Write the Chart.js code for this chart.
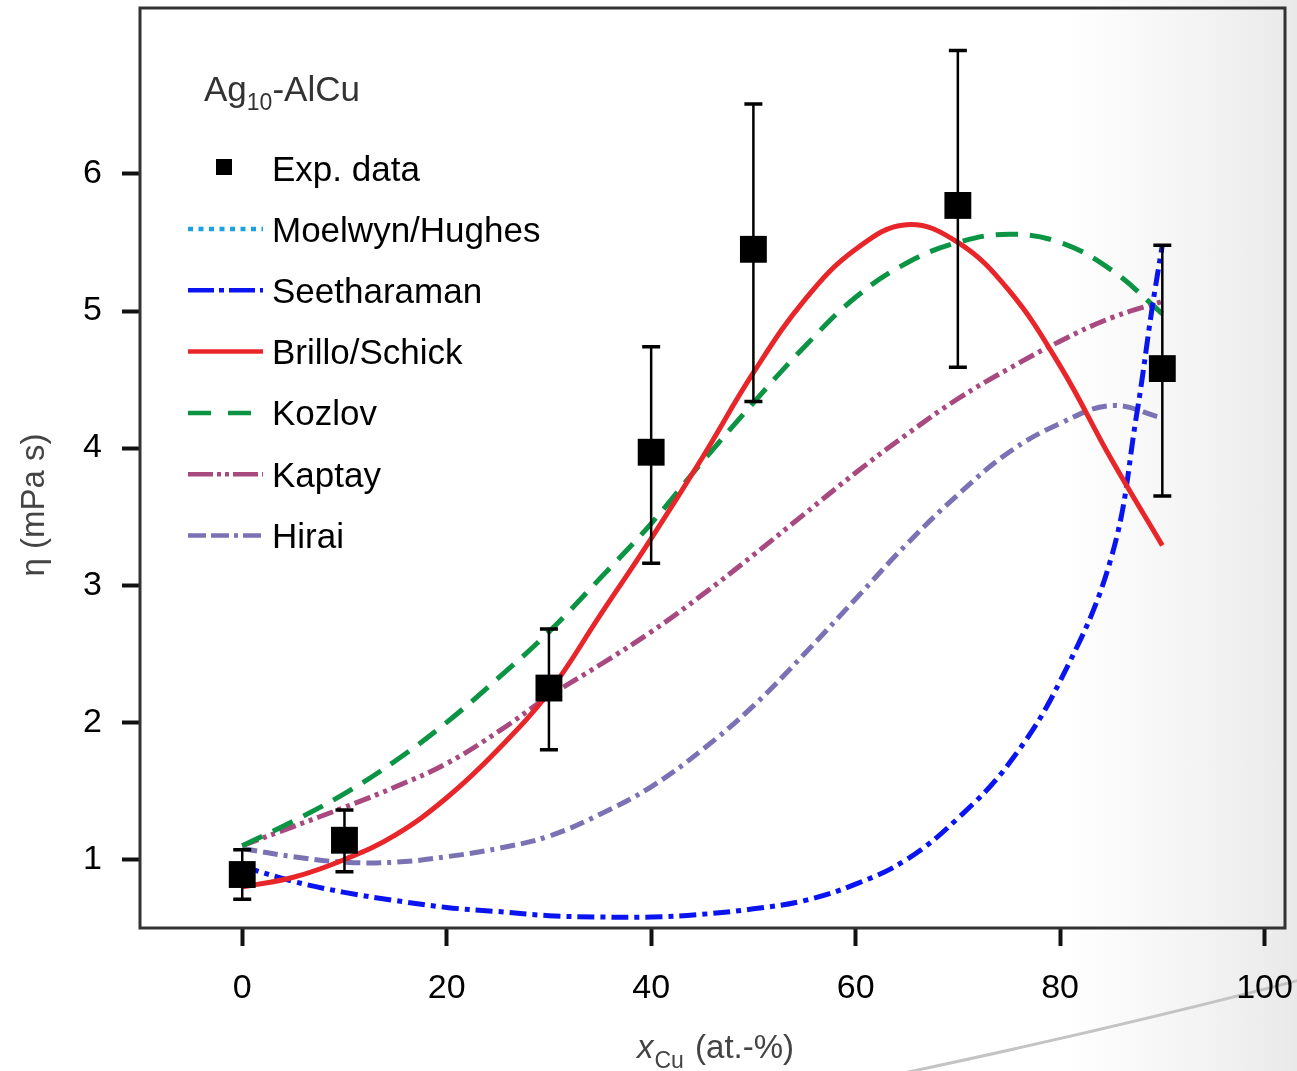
<!DOCTYPE html>
<html>
<head>
<meta charset="utf-8">
<script src="https://cdn.jsdelivr.net/npm/chart.js"></script>
<style>
  html, body { margin: 0; padding: 0; }
  body {
    width: 1297px; height: 1071px; overflow: hidden; position: relative;
    background: linear-gradient(to right, #ffffff 0%, #ffffff 82%, #f3f3f3 93%, #e9e9e9 100%);
    font-family: "Liberation Sans", Arial, sans-serif;
  }
  #deco { position: absolute; left: 0; top: 0; }
  /* canvas is shifted up a bit so the plot box lands where the original has it */
  #wrap { position: absolute; left: 0; top: -11px; width: 1304px; height: 1082px; }
</style>
</head>
<body>
<svg id="deco" width="1297" height="1071">
  <path d="M 880 1078 Q 1100 1032 1300 980" fill="none" stroke="#c4c4c4" stroke-width="3"/>
</svg>
<div id="wrap"><canvas id="chart"></canvas></div>
<script>
// axis ticks
const xTicks = [0, 20, 40, 60, 80, 100];
const yTicks = [1, 2, 3, 4, 5, 6];

// experimental points (x in at.-% Cu, viscosity in mPa s)
const expX    = [0, 10, 30, 40, 50, 70, 90];
const expY    = [0.89, 1.14, 2.25, 3.97, 5.45, 5.77, 4.58];
const expLow  = [0.71, 0.91, 1.80, 3.16, 4.34, 4.59, 3.65];
const expHigh = [1.07, 1.36, 2.68, 4.74, 6.51, 6.90, 5.48];

// model curves
const curveX = [0, 5, 10, 15, 20, 25, 30, 35, 40, 45, 50, 55, 60, 65, 70, 75, 80, 85, 90];
const brillo = [0.80, 0.87, 1.00, 1.18, 1.45, 1.80, 2.22, 2.78, 3.34, 3.93, 4.55, 5.08, 5.45, 5.63, 5.50, 5.15, 4.60, 3.92, 3.29];
const kozlov = [1.10, 1.28, 1.48, 1.72, 2.00, 2.32, 2.66, 3.05, 3.45, 3.90, 4.33, 4.74, 5.10, 5.35, 5.50, 5.56, 5.50, 5.30, 4.98];
const kaptay = [1.10, 1.24, 1.38, 1.53, 1.70, 1.93, 2.19, 2.42, 2.66, 2.93, 3.22, 3.52, 3.82, 4.10, 4.36, 4.58, 4.78, 4.95, 5.07];
const hirai  = [1.08, 1.02, 0.98, 0.98, 1.02, 1.08, 1.17, 1.33, 1.53, 1.80, 2.12, 2.50, 2.90, 3.30, 3.66, 3.97, 4.18, 4.31, 4.22];

const seethX = [0, 5, 10, 15, 20, 25, 30, 35, 40, 45, 50, 55, 60, 65, 70, 75, 80, 85, 87.5, 89, 90];
const seeth  = [0.95, 0.84, 0.76, 0.70, 0.65, 0.62, 0.59, 0.58, 0.58, 0.60, 0.64, 0.70, 0.82, 1.00, 1.30, 1.70, 2.30, 3.20, 4.25, 5.02, 5.48];

// Moelwyn/Hughes is listed in the legend but not visible in the plot
const moelwynX = [];
const moelwyn  = [];

const FONT = '"Liberation Sans", Arial, sans-serif';
const SHIFT = 11; // matches the -11px offset of #wrap

function pts(xs, ys) {
  return xs.map((x, i) => ({ x: x, y: ys[i] }));
}

function curve(label, xs, ys, color, dash, legendDash, order) {
  return {
    type: 'line',
    label: label,
    data: pts(xs, ys),
    borderColor: color,
    borderWidth: 5,
    borderDash: dash,
    legendDash: legendDash,
    pointRadius: 0,
    fill: false,
    tension: 0.4,
    order: order
  };
}

const datasets = [
  {
    type: 'scatter',
    label: 'Exp. data',
    data: pts(expX, expY),
    pointStyle: 'rect',
    pointRadius: 19,
    pointBackgroundColor: '#000',
    pointBorderWidth: 0,
    order: 0
  },
  curve('Moelwyn/Hughes', moelwynX, moelwyn, '#1ba1e2', [5, 5], [5, 5.5], 7),
  curve('Seetharaman', seethX, seeth, '#0a14f0', [17, 6, 5, 6], [26, 5, 5, 5], 2),
  curve('Brillo/Schick', curveX, brillo, '#e8262a', [], [], 1),
  curve('Kozlov', curveX, kozlov, '#0b9444', [22, 12], [23, 17], 3),
  curve('Kaptay', curveX, kaptay, '#a8497f', [17, 5, 4, 5, 4, 5], [25, 4, 4, 4, 4, 4], 4),
  curve('Hirai', curveX, hirai, '#7a72b4', [15, 6, 15, 6, 4, 6], [18, 5, 18, 5, 4, 5], 5)
];

// frame + error bars + legend + axis titles
const decorPlugin = {
  id: 'decor',
  beforeDatasetsDraw(chart) {
    const a = chart.chartArea, ctx = chart.ctx;
    ctx.save();
    ctx.strokeStyle = '#333';
    ctx.lineWidth = 3;
    ctx.strokeRect(a.left, a.top, a.right - a.left, a.bottom - a.top);
    ctx.restore();
  },
  afterDatasetsDraw(chart) {
    const ctx = chart.ctx, xs = chart.scales.x, ys = chart.scales.y;
    ctx.save();
    ctx.strokeStyle = '#000';
    for (let i = 0; i < expX.length; i++) {
      const px = xs.getPixelForValue(expX[i]);
      const top = ys.getPixelForValue(expHigh[i]);
      const bot = ys.getPixelForValue(expLow[i]);
      ctx.lineWidth = 2.5;
      ctx.beginPath();
      ctx.moveTo(px, top); ctx.lineTo(px, bot);
      ctx.stroke();
      ctx.lineWidth = 3.5;
      ctx.beginPath();
      ctx.moveTo(px - 9, top); ctx.lineTo(px + 9, top);
      ctx.moveTo(px - 9, bot); ctx.lineTo(px + 9, bot);
      ctx.stroke();
    }
    ctx.restore();
  },
  afterDraw(chart) {
    const ctx = chart.ctx;
    ctx.save();
    ctx.translate(0, SHIFT);
    ctx.textBaseline = 'alphabetic';
    ctx.textAlign = 'left';

    // title inside plot
    ctx.fillStyle = '#333';
    ctx.font = '35px ' + FONT;
    let x = 204;
    ctx.fillText('Ag', x, 101);
    x += ctx.measureText('Ag').width;
    ctx.font = '23px ' + FONT;
    ctx.fillText('10', x, 110);
    x += ctx.measureText('10').width;
    ctx.font = '35px ' + FONT;
    ctx.fillText('-AlCu', x, 101);

    // legend
    ctx.fillStyle = '#000';
    ctx.fillRect(216, 159, 16, 16);
    ctx.fillText(chart.data.datasets[0].label, 272, 181);
    chart.data.datasets.slice(1).forEach((ds, i) => {
      const y = 229 + i * 61.3;
      ctx.strokeStyle = ds.borderColor;
      ctx.lineWidth = 4.5;
      ctx.setLineDash(ds.legendDash);
      ctx.beginPath();
      ctx.moveTo(188, y); ctx.lineTo(263, y);
      ctx.stroke();
      ctx.setLineDash([]);
      ctx.fillStyle = '#000';
      ctx.fillText(ds.label, 272, y + 12.5);
    });

    // y axis title
    ctx.save();
    ctx.fillStyle = '#444';
    ctx.font = '33px ' + FONT;
    ctx.translate(44, 505);
    ctx.rotate(-Math.PI / 2);
    ctx.textAlign = 'center';
    ctx.fillText('\u03b7 (mPa s)', 0, 0);
    ctx.restore();

    // x axis title
    ctx.fillStyle = '#444';
    ctx.textAlign = 'left';
    ctx.font = 'italic 33px ' + FONT;
    let tx = 637;
    ctx.fillText('x', tx, 1058);
    tx += ctx.measureText('x').width + 1;
    ctx.font = '23px ' + FONT;
    ctx.fillText('Cu', tx, 1068);
    tx += ctx.measureText('Cu').width + 2;
    ctx.font = '33px ' + FONT;
    ctx.fillText(' (at.-%)', tx, 1058);
    ctx.restore();
  }
};

new Chart(document.getElementById('chart'), {
  type: 'line',
  data: { datasets: datasets },
  options: {
    responsive: true,
    maintainAspectRatio: false,
    animation: false,
    layout: { padding: { left: 0, right: 5, top: 0, bottom: 0 } },
    plugins: { legend: { display: false }, tooltip: { enabled: false } },
    scales: {
      x: {
        type: 'linear',
        min: -10,
        max: 102,
        afterBuildTicks(s) { s.ticks = xTicks.map(v => ({ value: v })); },
        afterFit(s) { s.height = 143; s.paddingLeft = 0; s.paddingRight = 0; },
        grid: { display: true, drawOnChartArea: false, drawTicks: true, tickLength: 18, tickWidth: 4, tickColor: '#111' },
        border: { display: false },
        ticks: { color: '#000', font: { family: FONT, size: 34 }, padding: 22, maxRotation: 0 }
      },
      y: {
        type: 'linear',
        min: 0.5,
        max: 7.21,
        afterBuildTicks(s) { s.ticks = yTicks.map(v => ({ value: v })); },
        afterFit(s) { s.width = 140; s.paddingTop = 0; s.paddingBottom = 0; },
        grid: { display: true, drawOnChartArea: false, drawTicks: true, tickLength: 18, tickWidth: 4, tickColor: '#111' },
        border: { display: false },
        ticks: { color: '#000', font: { family: FONT, size: 34 }, padding: 20 }
      }
    }
  },
  plugins: [decorPlugin]
});
</script>
</body>
</html>
